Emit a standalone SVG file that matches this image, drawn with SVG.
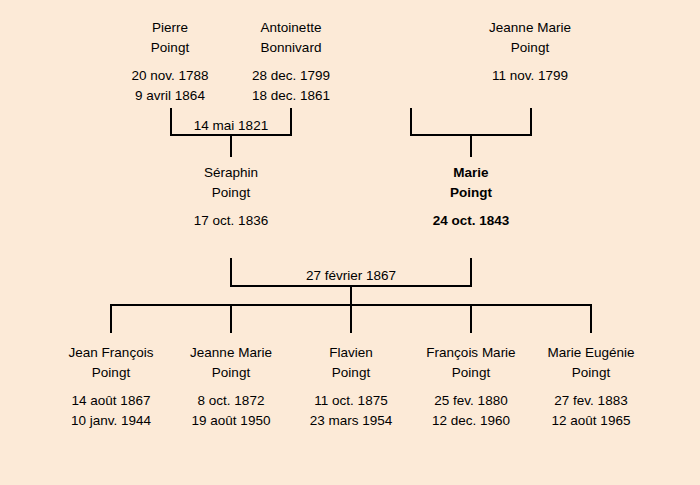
<svg xmlns="http://www.w3.org/2000/svg" width="700" height="485" viewBox="0 0 700 485">
<style>
text{font-family:"Liberation Sans",Arial,sans-serif;font-size:13.5px;fill:#000;text-anchor:middle}
.b{font-weight:bold}
.ln{fill:none;stroke:#000;stroke-width:2}
</style>
<rect width="700" height="485" fill="#FCEAD7"/>
<g id="connectors" class="ln">
<path d="M171,108V135H291V108M231,135V157"/>
<path d="M411,108V135H531V108M471,135V157"/>
<path d="M231,258V286H471V258M351,286V305"/>
<path d="M111,333V305H591V333M231,305V333M351,305V333M471,305V333"/>
</g>
<g id="label-1821"><text x="231" y="130">14 mai 1821</text></g>
<g id="label-1867"><text x="351" y="280">27 février 1867</text></g>
<g id="pierre"><text x="170" y="32">Pierre</text><text x="170" y="52">Poingt</text><text x="170" y="80">20 nov. 1788</text><text x="170" y="100">9 avril 1864</text></g>
<g id="antoinette"><text x="291" y="32">Antoinette</text><text x="291" y="52">Bonnivard</text><text x="291" y="80">28 dec. 1799</text><text x="291" y="100">18 dec. 1861</text></g>
<g id="jeanne-marie-1799"><text x="530" y="32">Jeanne Marie</text><text x="530" y="52">Poingt</text><text x="530" y="80">11 nov. 1799</text></g>
<g id="seraphin"><text x="231" y="177">Séraphin</text><text x="231" y="197">Poingt</text><text x="231" y="225">17 oct. 1836</text></g>
<g id="marie"><text class="b" x="471" y="177">Marie</text><text class="b" x="471" y="197">Poingt</text><text class="b" x="471" y="225">24 oct. 1843</text></g>
<g id="jean-francois"><text x="111" y="357">Jean François</text><text x="111" y="377">Poingt</text><text x="111" y="405">14 août 1867</text><text x="111" y="425">10 janv. 1944</text></g>
<g id="jeanne-marie-1872"><text x="231" y="357">Jeanne Marie</text><text x="231" y="377">Poingt</text><text x="231" y="405">8 oct. 1872</text><text x="231" y="425">19 août 1950</text></g>
<g id="flavien"><text x="351" y="357">Flavien</text><text x="351" y="377">Poingt</text><text x="351" y="405">11 oct. 1875</text><text x="351" y="425">23 mars 1954</text></g>
<g id="francois-marie"><text x="471" y="357">François Marie</text><text x="471" y="377">Poingt</text><text x="471" y="405">25 fev. 1880</text><text x="471" y="425">12 dec. 1960</text></g>
<g id="marie-eugenie"><text x="591" y="357">Marie Eugénie</text><text x="591" y="377">Poingt</text><text x="591" y="405">27 fev. 1883</text><text x="591" y="425">12 août 1965</text></g>
</svg>
